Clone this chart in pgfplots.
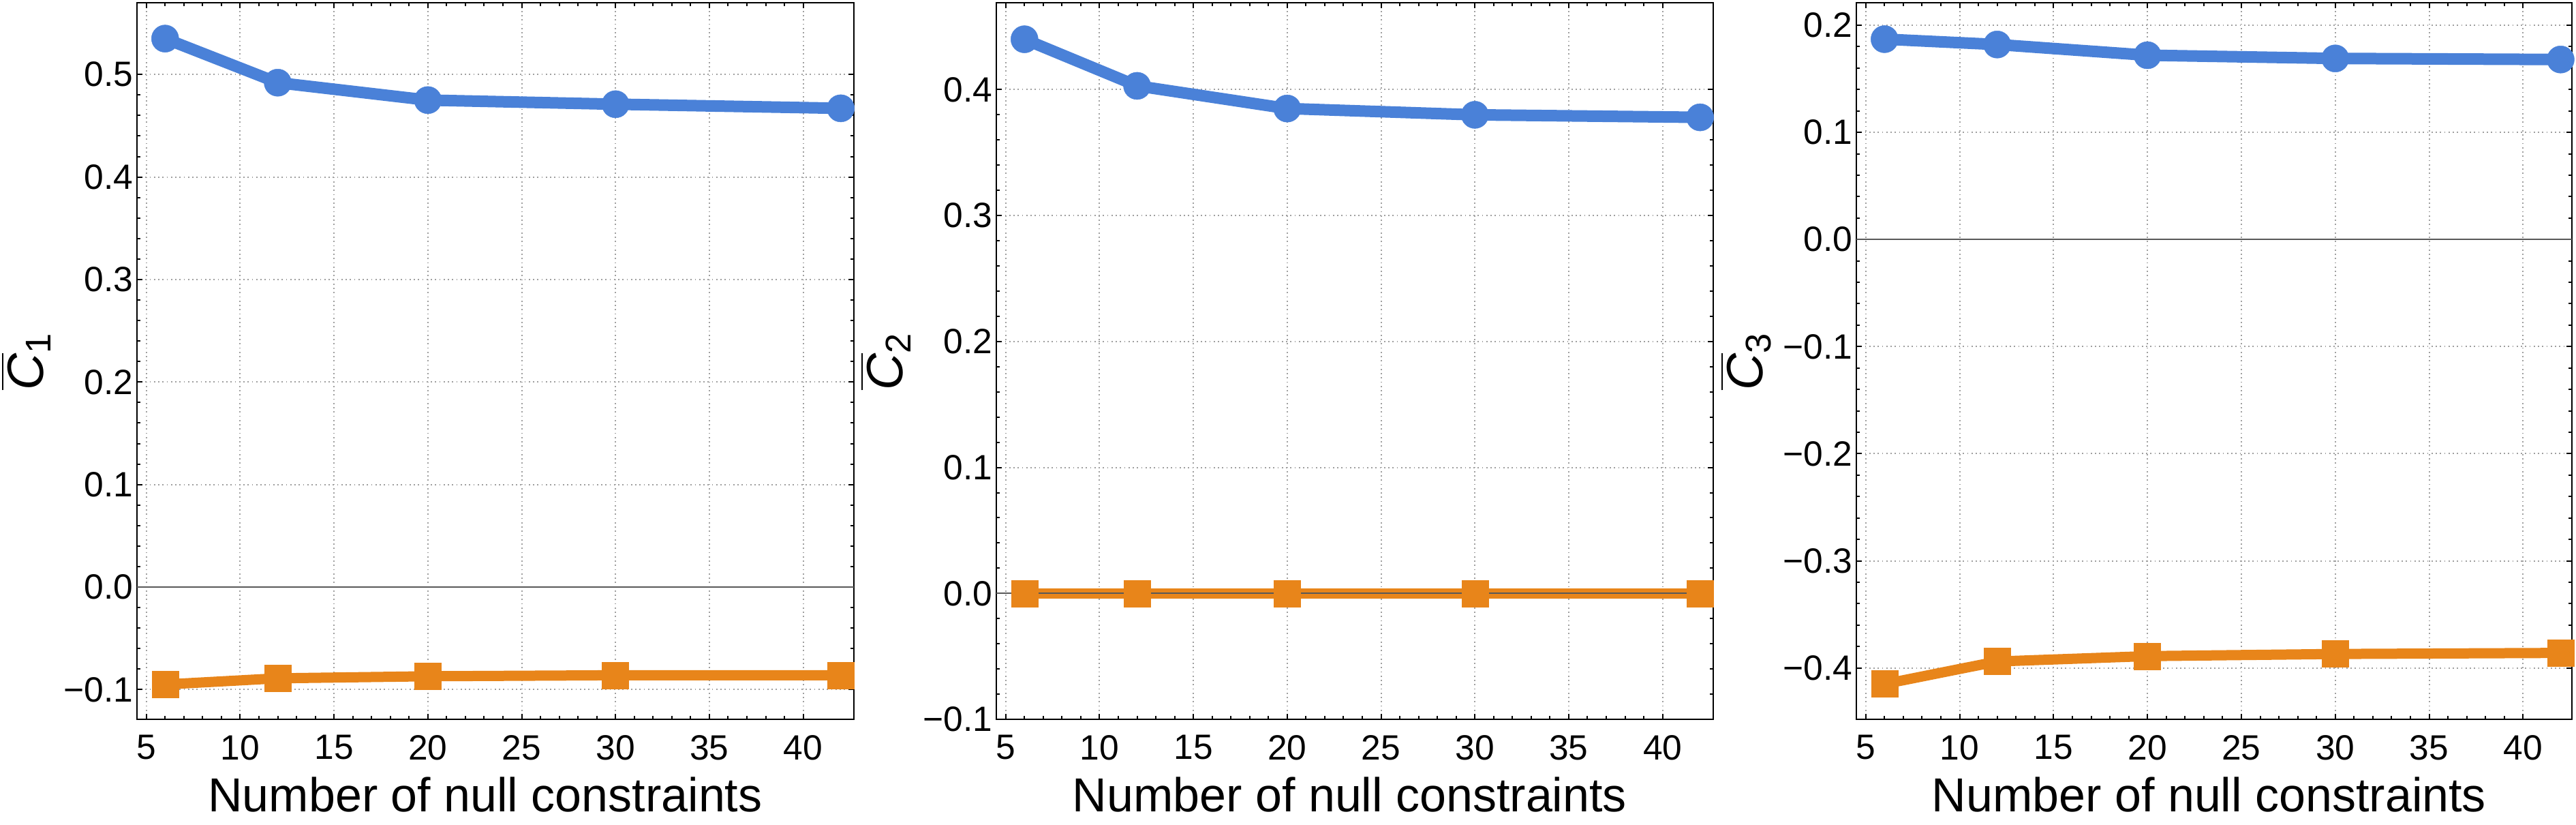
\documentclass[border=0pt]{standalone}
\usepackage{pgfplots}
\pgfplotsset{compat=1.18}
\usepackage{fontspec}
\setmainfont{Liberation Sans}
\definecolor{mblue}{RGB}{74,129,216}
\definecolor{morange}{RGB}{232,133,26}
\tikzset{zeroline/.style={gray!70!black, line width=0.4pt}}
\pgfplotsset{
  common/.style={
    scale only axis, width=210.4pt, height=210.2pt,
    xmin=4.5, xmax=42.7,
    xtick={5,10,15,20,25,30,35,40},
    xticklabels={5,10,15,20,25,30,35,40},
    minor x tick num=4, minor y tick num=4,
    xtick pos=both, ytick pos=both, tick align=inside,
    major tick length=1.6pt, minor tick length=1pt,
    every tick/.style={black, line width=0.4pt},
    axis line style={black, line width=0.5pt},
    grid=major,
    major grid style={gray!75, line width=0.4pt, dash pattern=on 0.35pt off 0.9pt},
    tick label style={font=\fontsize{10.3}{12}\selectfont},
    xticklabel style={yshift=-1.1pt},
    yticklabel style={xshift=2.4pt},
    label style={font=\fontsize{14}{16}\selectfont},
    xlabel={Number of null constraints},
    xlabel style={at={(axis description cs:0.5,0)}, anchor=base, yshift=-27pt},
    ylabel style={at={(axis description cs:-0.155,0.5)}, anchor=center, font=\fontsize{15}{17}\selectfont},
    clip=false,
  },
  blueline/.style={mblue, line width=3.4pt, mark=*, mark size=4pt, mark options={fill=mblue, draw=mblue, line width=0.1pt}},
  orangeline/.style={morange, line width=3pt, mark=square*, mark size=3.9pt, mark options={fill=morange, draw=morange, line width=0.1pt}},
}
\begin{document}
\begin{tikzpicture}
\useasboundingbox (0,0) rectangle (756pt,241.8pt);
% Panel 1
\begin{axis}[common, at={(40.2pt,30.8pt)}, anchor=south west,
  xlabel style={xshift=-3pt},
  ymin=-0.129, ymax=0.570,
  ytick={-0.1,0,0.1,0.2,0.3,0.4,0.5},
  yticklabels={−0.1,0.0,0.1,0.2,0.3,0.4,0.5},
  ylabel={$\overline{\mbox{\itshape C}}_{\mbox{\fontsize{10.5}{12}\selectfont 1}}$}]
\addplot[blueline] coordinates {(6,0.535) (12,0.492) (20,0.475) (30,0.471) (42,0.467)};
\addplot[orangeline] coordinates {(6,-0.095) (12,-0.089) (20,-0.087) (30,-0.086) (42,-0.086)};
\draw[zeroline] (axis cs:4.5,0) -- (axis cs:42.7,0);
\end{axis}
% Panel 2
\begin{axis}[common, at={(292.4pt,30.8pt)}, anchor=south west,
  xlabel style={xshift=-1.5pt},
  ymin=-0.1, ymax=0.469,
  ytick={-0.1,0,0.1,0.2,0.3,0.4},
  yticklabels={−0.1,0.0,0.1,0.2,0.3,0.4},
  ylabel={$\overline{\mbox{\itshape C}}_{\mbox{\fontsize{10.5}{12}\selectfont 2}}$}]
\addplot[blueline] coordinates {(6,0.440) (12,0.403) (20,0.385) (30,0.380) (42,0.378)};
\addplot[orangeline] coordinates {(6,0) (12,0) (20,0) (30,0) (42,0)};
\draw[zeroline] (axis cs:4.5,0) -- (axis cs:42.7,0);
\end{axis}
% Panel 3
\begin{axis}[common, at={(544.8pt,30.8pt)}, anchor=south west, width=210pt,
  xlabel style={xshift=-1.5pt},
  xmax=42.6,
  ymin=-0.448, ymax=0.221,
  ytick={-0.4,-0.3,-0.2,-0.1,0,0.1,0.2},
  yticklabels={−0.4,−0.3,−0.2,−0.1,0.0,0.1,0.2},
  ylabel={$\overline{\mbox{\itshape C}}_{\mbox{\fontsize{10.5}{12}\selectfont 3}}$}]
\addplot[blueline] coordinates {(6,0.187) (12,0.182) (20,0.172) (30,0.169) (42,0.168)};
\addplot[orangeline] coordinates {(6,-0.415) (12,-0.394) (20,-0.389) (30,-0.387) (42,-0.386)};
\draw[zeroline] (axis cs:4.5,0) -- (axis cs:42.6,0);
\end{axis}
\end{tikzpicture}
\end{document}
